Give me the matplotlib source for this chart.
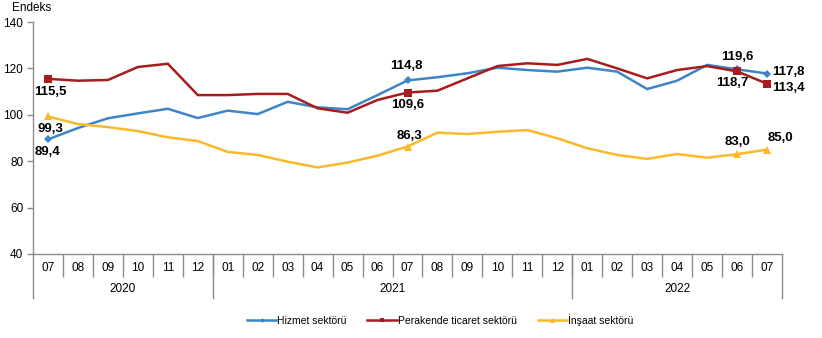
import matplotlib.pyplot as plt
from matplotlib.lines import Line2D
import matplotlib.transforms as mtransforms

plt.rcParams['font.family'] = ['Liberation Sans', 'DejaVu Sans']

# ------------ data ------------
months = ['07', '08', '09', '10', '11', '12',
          '01', '02', '03', '04', '05', '06', '07', '08', '09', '10', '11', '12',
          '01', '02', '03', '04', '05', '06', '07']
years = ['2020', '2021', '2022']
year_counts = [6, 12, 7]

hizmet = [89.4, 94.3, 98.5, 100.6, 102.6, 98.6, 101.8, 100.3, 105.6, 103.2, 102.4, 108.5,
          114.8, 116.2, 117.9, 120.3, 119.3, 118.6, 120.3, 118.6, 111.1, 114.7, 121.5, 119.6, 117.8]
perakende = [115.5, 114.7, 115.0, 120.6, 122.0, 108.5, 108.5, 109.0, 109.0, 102.8, 100.9, 106.4,
             109.6, 110.4, 115.7, 121.0, 122.2, 121.5, 124.1, 120.0, 115.7, 119.3, 121.0, 118.7, 113.4]
insaat = [99.3, 96.0, 94.7, 93.0, 90.3, 88.7, 84.0, 82.7, 79.8, 77.3, 79.4, 82.4,
          86.3, 92.3, 91.7, 92.7, 93.4, 89.9, 85.6, 82.7, 81.0, 83.1, 81.5, 83.0, 85.0]

labels = ['Hizmet sektörü', 'Perakende ticaret sektörü', 'İnşaat sektörü']
marked = [0, 12, 23, 24]  # points that carry a marker and a value label

c_blue = '#3d85c6'
c_red = '#a61c1f'
c_yellow = '#f9b928'
c_axis = '#8c8c8c'

fig = plt.figure(figsize=(8.22, 3.38), dpi=100)
ax = fig.add_axes([33 / 822, 1 - 254 / 338, 749 / 822, 232 / 338])

x = list(range(len(months)))
series = [(hizmet, c_blue, 'D', 4), (perakende, c_red, 's', 5.5), (insaat, c_yellow, '^', 6)]
for (vals, col, mk, ms), lab in zip(series, labels):
    ax.plot(x, vals, color=col, lw=1.8, marker=mk, markersize=ms, markevery=marked,
            markeredgewidth=0, label=lab, solid_joinstyle='miter')


def fmt(v):
    return f'{v:.1f}'.replace('.', ',')


# value labels: (series, index, dx px, dy px, ha, va)
lab_pos = [
    (perakende, 0, 2, -7, 'center', 'top'),
    (insaat, 0, 2, -7, 'center', 'top'),
    (hizmet, 0, 0, -7, 'center', 'top'),
    (hizmet, 12, -1, 8, 'center', 'bottom'),
    (perakende, 12, 0, -6, 'center', 'top'),
    (insaat, 12, 2, 5, 'center', 'bottom'),
    (hizmet, 23, 0, 6, 'center', 'bottom'),
    (perakende, 23, -5, -6, 'center', 'top'),
    (hizmet, 24, 5, 2, 'left', 'center'),
    (perakende, 24, 5, -4, 'left', 'center'),
    (insaat, 23, 0, 6, 'center', 'bottom'),
    (insaat, 24, 1, 6, 'left', 'bottom'),
]
for vals, i, dx, dy, ha, va in lab_pos:
    ax.annotate(fmt(vals[i]), (i, vals[i]), xytext=(dx * 0.72, dy * 0.72),
                textcoords='offset points', ha=ha, va=va, fontsize=9.5,
                fontweight='bold', color='black')

# ------------ axes ------------
ax.set_xlim(-0.5, len(months) - 0.5)
ax.set_ylim(40, 140)
ax.set_yticks([40, 60, 80, 100, 120, 140])
ax.tick_params(axis='y', length=4, width=1, color=c_axis, labelsize=8.5, pad=3)

ax.set_xticks(x)
ax.set_xticklabels(months)
ax.set_xticks([i + 0.5 for i in x[:-1]], minor=True)
ax.tick_params(axis='x', which='major', length=0, labelsize=8.5, pad=6)
ax.tick_params(axis='x', which='minor', length=16.5, width=1, color=c_axis)

for s in ['top', 'right']:
    ax.spines[s].set_visible(False)
for s in ['left', 'bottom']:
    ax.spines[s].set_color(c_axis)
    ax.spines[s].set_linewidth(1)

# year groups below the month labels
trans = mtransforms.blended_transform_factory(ax.transData, ax.transAxes)
start = -0.5
for yr, n in zip(years, year_counts):
    ax.text(start + n / 2, -0.152, yr, transform=trans, ha='center', va='center', fontsize=8.5)
    start += n
bounds = [-0.5]
for n in year_counts:
    bounds.append(bounds[-1] + n)
for b in bounds:
    ax.add_line(Line2D([b, b], [0, -0.19], transform=trans, color=c_axis, lw=1, clip_on=False))

fig.text(12 / 822, 1 - 8 / 338, 'Endeks', fontsize=8.5, ha='left', va='center')

leg = fig.legend(loc='center', bbox_to_anchor=(440 / 822, 1 - 320 / 338), ncol=3, frameon=False,
                 fontsize=7.5, handlelength=2.8, handletextpad=0.1, columnspacing=2.0,
                 markerscale=0.6)

fig.savefig('out.png', dpi=100)
